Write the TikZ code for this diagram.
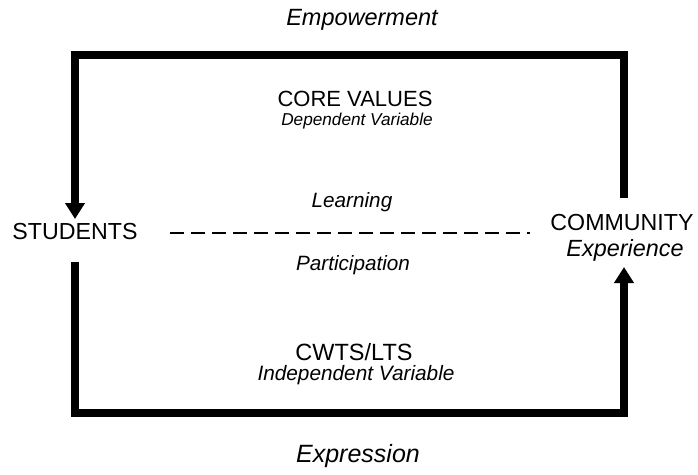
\documentclass[tikz,border=0pt]{standalone}
\usepackage{fontspec}
\setmainfont{Liberation Sans}
\usetikzlibrary{arrows.meta}
\tikzset{
  txt/.style={anchor=base, inner sep=0pt},
  loopline/.style={line width=8pt, line join=miter},
  tip/.style={-{Triangle[width=19pt, length=16pt]}},
  dashline/.style={line width=1.5pt, dash pattern=on 13.5pt off 7.5pt}
}
\newcommand{\fs}[1]{\fontsize{#1}{#1}\selectfont}

\begin{document}
\begin{tikzpicture}[x=1pt, y=-1pt]
  \useasboundingbox (0,0) rectangle (698,474);

  % corners of the loop
  \coordinate (tl) at (75,55);
  \coordinate (tr) at (624,55);
  \coordinate (bl) at (75,413);
  \coordinate (br) at (624,413);

  % free ends of the arrows
  \coordinate (ul) at (75,219);
  \coordinate (ur) at (624,198);
  \coordinate (ll) at (75,262);
  \coordinate (lr) at (624,267);

  % dashed line ends
  \coordinate (dl) at (170,233);
  \coordinate (dr) at (530,233);

  \node (emp) [txt, font=\fs{23.5}\itshape] at (362,25) {Empowerment};
  \node (core) [txt, font=\fs{22}] at (355,106) {CORE VALUES};
  \node (dep) [txt, font=\fs{17.2}\itshape] at (357,125) {Dependent Variable};

  \node (learn) [txt, font=\fs{20.7}\itshape] at (352,207) {Learning};
  \node (stud) [txt, font=\fs{23.2}] at (75,239) {STUDENTS};
  \node (comm) [txt, font=\fs{23.2}] at (622,230) {COMMUNITY};
  \node (exp) [txt, font=\fs{23.4}\itshape] at (625,256) {Experience};
  \node (part) [txt, font=\fs{20.7}\itshape] at (353,270) {Participation};

  \node (cwts) [txt, font=\fs{23.5}] at (354,360) {CWTS/LTS};
  \node (indep) [txt, font=\fs{20.8}\itshape] at (356,380) {Independent Variable};
  \node (expr) [txt, font=\fs{25}\itshape] at (358,462) {Expression};

  \draw [loopline, tip] (ur) -- (tr) -- (tl) -- (ul);
  \draw [loopline, tip] (ll) -- (bl) -- (br) -- (lr);

  \draw [dashline] (dl) -- (dr);
\end{tikzpicture}
\end{document}
